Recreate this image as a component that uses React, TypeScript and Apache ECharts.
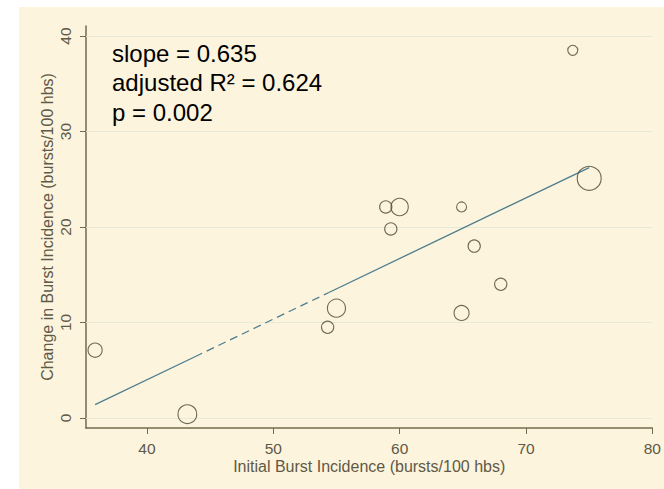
import React, { useEffect, useRef } from "react";
import * as echarts from "echarts";

// Initial vs. change in burst incidence, one circle per subject, area ~ weight
const initialBurst = [35.9, 43.2, 54.3, 55.0, 58.9, 60.0, 59.3, 64.9, 65.9, 68.0, 64.9, 73.7, 75.0];
const changeBurst = [7.1, 0.4, 9.5, 11.5, 22.1, 22.1, 19.8, 22.1, 18.0, 14.0, 11.0, 38.5, 25.1];
const weights = [8, 14, 6, 13, 6, 12, 6, 4, 6, 6, 9, 4, 23];

const xTicks = [40, 50, 60, 70, 80];
const yTicks = [0, 10, 20, 30, 40];

// Linear fit; drawn dashed across the gap in the data
const slope = 0.635;
const intercept = -21.4;
const solidSpans = [
  [35.9, 43.8],
  [54.4, 75.0],
];
const dashedSpans = [[43.8, 54.4]];

const statLines = ["slope = 0.635", "adjusted R\u00b2 = 0.624", "p = 0.002"];

const FONT = '"Liberation Sans", Arial, Helvetica, sans-serif';
const CREAM = "#fcf4dd";
const AXIS = "#736a4d";
const LABEL = "#5f5947";
const GRID = "#e7ead6";
const FIT = "#4d7d8f";
const RING = "#4e4730";

const fitPoint = (x: number) => [x, intercept + slope * x];

export default function App() {
  const ref = useRef<HTMLDivElement>(null);

  useEffect(() => {
    if (!ref.current) return;
    const chart = echarts.init(ref.current, undefined, { renderer: "svg" });

    const points = initialBurst.map((x, i) => [x, changeBurst[i], weights[i]]);

    const fitSeries = [
      ...solidSpans.map((s) => ({ span: s, dashed: false })),
      ...dashedSpans.map((s) => ({ span: s, dashed: true })),
    ].map(({ span, dashed }) => ({
      type: "line" as const,
      data: span.map(fitPoint),
      symbol: "none",
      silent: true,
      z: 2,
      lineStyle: {
        color: FIT,
        width: 1.3,
        type: dashed ? [8, 5] : "solid",
      },
    }));

    chart.setOption({
      animation: false,
      backgroundColor: CREAM,
      textStyle: { fontFamily: FONT },
      grid: { left: 86, top: 26, right: 1, bottom: 61, containLabel: false },
      xAxis: {
        type: "value",
        min: 35.18,
        max: 80,
        name: "Initial Burst Incidence (bursts/100 hbs)",
        nameLocation: "middle",
        nameGap: 30,
        nameMoveOverlap: false,
        nameTextStyle: { fontSize: 16, color: LABEL, fontFamily: FONT },
        axisLine: { show: true, onZero: false, lineStyle: { color: AXIS, width: 1.5 } },
        axisTick: { show: true, customValues: xTicks, length: 6, lineStyle: { color: AXIS, width: 1 } },
        axisLabel: {
          customValues: xTicks,
          fontSize: 15.5,
          color: LABEL,
          margin: 12,
          fontFamily: FONT,
        },
        splitLine: { show: false },
      },
      yAxis: {
        type: "value",
        min: -1.05,
        max: 41.05,
        name: "Change in Burst Incidence (bursts/100 hbs)",
        nameLocation: "middle",
        nameGap: 31,
        nameMoveOverlap: false,
        nameTextStyle: { fontSize: 16, color: LABEL, fontFamily: FONT },
        axisLine: { show: true, onZero: false, lineStyle: { color: AXIS, width: 1.5 } },
        axisTick: { show: true, customValues: yTicks, length: 6, lineStyle: { color: AXIS, width: 1 } },
        axisLabel: {
          customValues: yTicks,
          rotate: 90,
          fontSize: 15.5,
          color: LABEL,
          margin: 13,
          fontFamily: FONT,
        },
        splitLine: { show: false },
      },
      series: [
        {
          type: "scatter",
          data: points,
          symbol: "circle",
          symbolSize: (v: number[]) => 5 * Math.sqrt(v[2]),
          z: 3,
          itemStyle: { color: "rgba(0,0,0,0)", borderColor: RING, borderWidth: 1.1 },
          markLine: {
            silent: true,
            symbol: "none",
            label: { show: false },
            lineStyle: { color: GRID, width: 1, type: "solid" },
            data: yTicks.map((v) => ({ yAxis: v })),
            z: 1,
          },
        },
        ...fitSeries,
      ],
      graphic: [
        { type: "rect", shape: { x: 0, y: 0, width: 664, height: 7 }, style: { fill: "#ffffff" } },
        { type: "rect", shape: { x: 0, y: 0, width: 19, height: 489 }, style: { fill: "#ffffff" } },
        ...statLines.map((t, i) => ({
          type: "text",
          x: 112,
          y: 53 + i * 29.5,
          style: {
            text: t,
            font: `24px ${FONT}`,
            fill: "#000000",
            verticalAlign: "middle",
          },
        })),
      ],
    });

    return () => chart.dispose();
  }, []);

  return (
    <div
      ref={ref}
      style={{ position: "fixed", left: 0, top: 0, width: 664, height: 489 }}
    />
  );
}
